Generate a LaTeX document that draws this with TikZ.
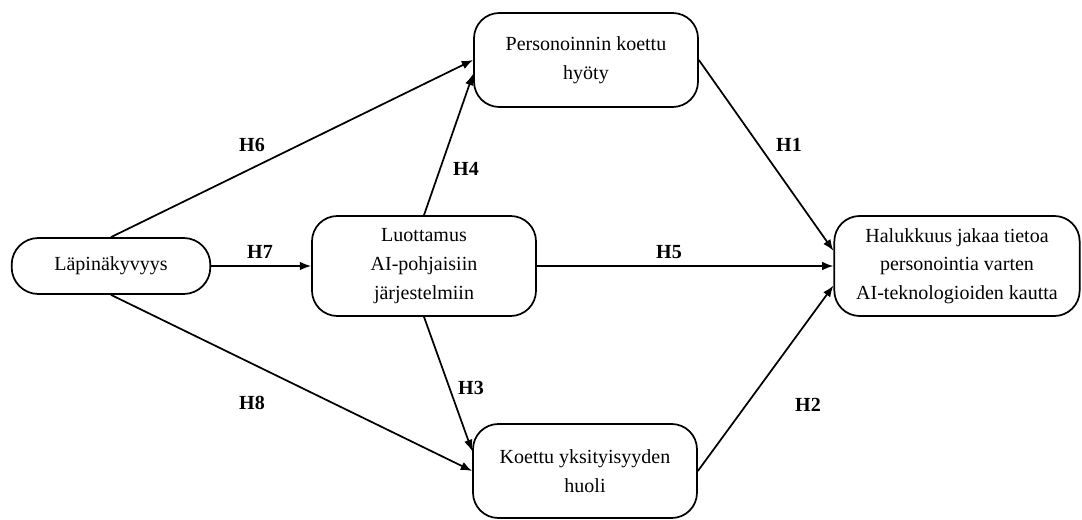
\documentclass[tikz,border=0pt]{standalone}
\usepackage{fontspec}
\setmainfont{Liberation Serif}
\usetikzlibrary{arrows.meta}

\begin{document}
\begin{tikzpicture}[
  x=0.75pt, y=-0.75pt,
  font=\fontsize{15}{21.5}\selectfont,
  construct/.style={
    draw,
    line width=1.3pt,
    rounded corners=19pt,
    align=center,
    inner sep=2pt,
    minimum width=168pt,
    minimum height=70.5pt
  },
  source/.style={construct, minimum width=149pt, minimum height=42pt, rounded corners=20pt},
  mediator/.style={construct, minimum height=75pt},
  outcome/.style={construct, minimum width=184pt, minimum height=75pt},
  path/.style={-{Latex[length=8.5pt,width=6.5pt]}, line width=1.3pt},
  hyp/.style={font=\fontsize{15}{17}\selectfont\bfseries}
]

\useasboundingbox (0,0) rectangle (1082,520);

\node[source] (lapinakyvyys) at (111,266) {Läpinäkyvyys};
\node[mediator] (luottamus) at (424,266) {Luottamus\\AI-pohjaisiin\\järjestelmiin};
\node[construct] (hyoty) at (586,60) {Personoinnin koettu\\hyöty};
\node[construct] (huoli) at (585,471) {Koettu yksityisyyden\\huoli};
\node[outcome] (halukkuus) at (957,266) {Halukkuus jakaa tietoa\\personointia varten\\AI-teknologioiden kautta};

\draw[path] (lapinakyvyys.north) -- (hyoty.west);
\draw[path] (lapinakyvyys) -- (luottamus);
\draw[path] (lapinakyvyys.south) -- (huoli.west);
\draw[path] (luottamus.north) -- (hyoty.187);
\draw[path] (luottamus.south) -- (huoli.170);
\draw[path] (luottamus) -- (halukkuus);
\draw[path] (hyoty.east) -- (halukkuus.173);
\draw[path] (huoli.east) -- (halukkuus.189);

\node[hyp] (h1) at (789,145) {H1};
\node[hyp] (h2) at (808,405) {H2};
\node[hyp] (h3) at (471,388) {H3};
\node[hyp] (h4) at (466,169) {H4};
\node[hyp] (h5) at (669,252) {H5};
\node[hyp] (h6) at (252,145) {H6};
\node[hyp] (h7) at (260,252) {H7};
\node[hyp] (h8) at (252,403) {H8};

\end{tikzpicture}
\end{document}
